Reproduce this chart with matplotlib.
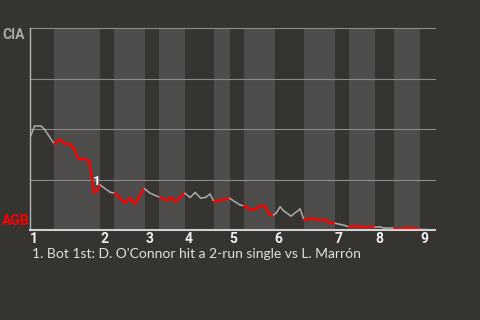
import numpy as np
import matplotlib
matplotlib.use('Agg')
import matplotlib.pyplot as plt
from matplotlib.collections import LineCollection

# game progress (plays) and CIA win probability (%)
play_x = [0, 1.0, 2.4, 3.1, 5.4,
          6.7, 7.8, 8.9, 10.0, 10.8, 12.4, 13.2, 14.2, 14.9, 15.6,
          16.3, 17.8, 18.9,
          20.0, 21.1, 22.2, 23.3, 25.4,
          26.7, 28.5, 28.9,
          30.4, 31.3, 32.4, 34.4,
          35.6, 36.7, 37.9, 39.0, 40.0, 40.9,
          42.4, 44.4,
          45.6, 46.7, 47.6,
          49.3, 50.0, 51.3, 52.2, 53.2, 54.1, 54.7,
          55.6, 56.4, 58.0, 60.0, 60.9,
          61.5, 62.7, 63.8, 65.6, 66.7, 67.8,
          68.9, 70.0, 70.9,
          72.2, 73.3, 76.7,
          77.8, 78.9, 80.9,
          82.2, 83.3, 85.6, 86.4, 86.7, 90.0]
cia_wp = [45.5, 51.5, 51.5, 50.2, 42.6,
          44.9, 42.6, 42.6, 39.6, 35.0, 35.0, 33.9, 18.6, 19.1, 22.3,
          21.1, 18.7, 18.2,
          15.8, 13.5, 15.7, 12.9, 20.5,
          18.2, 16.5, 16.2,
          14.6, 16.1, 14.0, 18.2,
          16.1, 18.6, 15.8, 16.1, 17.8, 14.0,
          14.9, 15.7,
          13.9, 12.4, 11.9,
          9.9, 10.2, 11.9, 11.9, 7.7, 7.4, 8.4,
          11.5, 9.4, 6.9, 10.4, 5.0,
          5.3, 5.7, 5.1, 5.1, 3.3, 3.3,
          2.8, 2.2, 1.5,
          2.1, 1.5, 1.5,
          1.5, 0.8, 0.8,
          0.3, 1.1, 0.8, 0.5, 0.3, 0.0]

# half-inning boundaries (top 1, bot 1, top 2, ...), last value = end of game
half_starts = [0, 5.3, 15.6, 18.7, 25.6, 28.7, 34.4, 40.9, 44.4,
               47.6, 54.4, 60.9, 67.8, 70.9, 76.7, 80.9, 86.7, 90.0]
inning_labels = ['1', '2', '3', '4', '5', '6', '7', '8', '9']

note_x, note_y = 14.9, 19.1
note_text = "1. Bot 1st: D. O'Connor hit a 2-run single vs L. Marrón"

bg = '#363431'
band = '#4e4d4b'
grey_line = '#aaaaaa'
red = '#ff0000'
bold_font = ['Roboto', 'DejaVu Sans']

plt.rcParams['font.family'] = ['Lato', 'DejaVu Sans']

fig = plt.figure(figsize=(4.8, 3.2), dpi=100, facecolor=bg)
ax = fig.add_axes([30 / 480, 1 - 230 / 320, 405 / 480, 202 / 320])
ax.set_facecolor(bg)
ax.set_xlim(half_starts[0], half_starts[-1])
ax.set_ylim(0, 100)

# shade bottom halves
for i in range(1, len(half_starts) - 1, 2):
    ax.axvspan(half_starts[i], half_starts[i + 1], color=band, lw=0, zorder=0)

for g in [25, 50, 75, 100]:
    ax.axhline(g, color='#8a8a88', lw=0.8, zorder=1, clip_on=False)

# line, red while AGB (home) bats
x = np.array(play_x)
y = np.array(cia_wp)
pts = np.column_stack([x, y]).reshape(-1, 1, 2)
segs = np.concatenate([pts[:-1], pts[1:]], axis=1)
mids = (x[:-1] + x[1:]) / 2
idx = np.searchsorted(half_starts, mids) - 1
is_bot = idx % 2 == 1
colors = [red if b else grey_line for b in is_bot]
widths = [1.7 if b else 1.1 for b in is_bot]
lc = LineCollection(segs, colors=colors, linewidths=widths, zorder=3,
                    capstyle='round', joinstyle='round')
ax.add_collection(lc)

ax.text(note_x, note_y + 1.5, '1', color='white', fontsize=9.5, fontweight='bold',
        family=bold_font, ha='center', va='bottom', zorder=4)

for s in ['top', 'right']:
    ax.spines[s].set_visible(False)
ax.spines['left'].set_color('#b5b5b5')
ax.spines['left'].set_linewidth(1.0)
ax.spines['bottom'].set_color('#d0d0d0')
ax.spines['bottom'].set_linewidth(1.5)
ax.spines['bottom'].set_zorder(5)

top_starts = half_starts[0:-1:2]
ax.set_xticks(top_starts)
ax.set_xticklabels(inning_labels)
ax.tick_params(axis='x', length=0, pad=1.5, colors='#f0f0f0', labelsize=10)
for lab in ax.get_xticklabels():
    lab.set_horizontalalignment('left')
    lab.set_fontweight('bold')
    lab.set_family(bold_font)
ax.set_yticks([])

fig.text(2 / 480, 1 - 35 / 320, 'CIA', color='#aaaaaa', fontsize=10,
         fontweight='bold', family=bold_font, ha='left', va='center')
fig.text(2 / 480, 1 - 221 / 320, 'AGB', color=red, fontsize=10,
         fontweight='bold', family=bold_font, ha='left', va='center')
fig.text(32 / 480, 1 - 254 / 320, note_text, color='#e0e0e0', fontsize=10,
         ha='left', va='center')

fig.savefig('out.png', dpi=100, facecolor=bg)
